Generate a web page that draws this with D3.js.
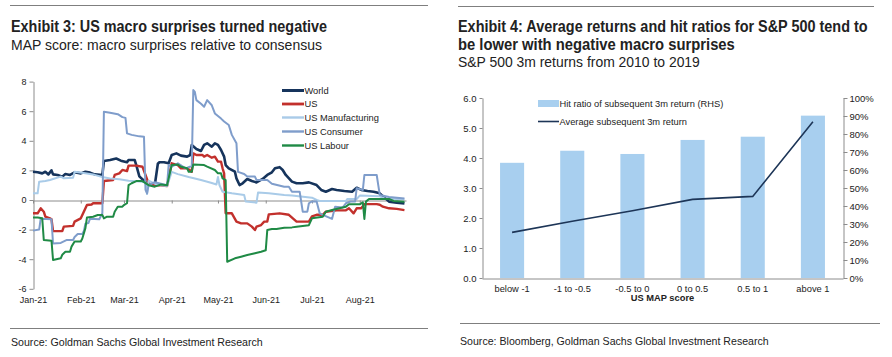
<!DOCTYPE html>
<html><head><meta charset="utf-8">
<script src="https://cdn.jsdelivr.net/npm/d3@7"></script>
<style>
html,body{margin:0;padding:0;background:#fff;}
svg{display:block;font-family:"Liberation Sans",Arial,sans-serif;}
</style></head>
<body><svg id="c" width="892" height="357"></svg>
<script>
// ---------- Exhibit 3 data (MAP scores) ----------
const seriesNames = ["World","US","US Manufacturing","US Consumer","US Labour"];
const seriesColors = ["#16345c","#c2302c","#a9cbe8","#7f9dcb","#1f8a45"];
const worldData = [["01-01",1.91],["01-04",1.87],["01-07",1.80],["01-09",1.91],["01-11",1.73],["01-13",2.00],["01-14",1.73],["01-17",1.69],["01-20",1.58],["01-22",1.76],["01-25",1.69],["01-28",1.87],["02-01",1.80],["02-04",1.91],["02-07",1.85],["02-10",1.73],["02-15",1.69],["02-16",2.64],["02-20",2.70],["02-24",2.80],["02-27",2.66],["03-03",2.55],["03-04",2.70],["03-08",2.70],["03-09",2.36],["03-11",1.60],["03-14",1.30],["03-17",1.10],["03-21",1.00],["03-23",2.45],["03-24",2.55],["03-27",2.55],["03-30",2.48],["04-01",3.04],["04-04",3.15],["04-07",3.00],["04-11",2.93],["04-13",3.04],["04-14",3.72],["04-17",3.45],["04-20",3.31],["04-22",3.72],["04-24",3.83],["04-27",3.60],["04-29",3.83],["05-01",3.72],["05-03",3.38],["05-05",2.93],["05-06",2.36],["05-08",2.14],["05-12",1.91],["05-13",1.46],["05-15",1.01],["05-17",1.13],["05-20",1.42],["05-23",1.28],["05-26",1.19],["05-30",1.42],["06-02",1.69],["06-05",1.87],["06-07",2.14],["06-10",2.22],["06-12",2.03],["06-14",1.69],["06-18",1.24],["06-21",1.13],["06-25",1.13],["06-29",1.19],["07-04",1.01],["07-07",0.68],["07-10",0.56],["07-14",0.74],["07-17",0.68],["07-22",0.61],["07-27",0.56],["07-30",0.83],["08-02",0.68],["08-06",0.61],["08-10",0.56],["08-14",0.45],["08-17",0.16],["08-20",-0.11],["08-25",-0.18],["08-30",-0.23]];
const usData = [["01-01",-0.90],["01-04",-0.90],["01-06",-0.56],["01-08",-0.79],["01-09",-1.13],["01-12",-1.24],["01-13",-1.30],["01-14",-2.10],["01-20",-2.10],["01-21",-1.80],["01-27",-1.75],["01-28",-1.46],["02-01",-1.24],["02-02",-1.01],["02-05",-0.34],["02-08",-0.30],["02-09",-0.22],["02-15",-0.22],["02-16",1.28],["02-22",1.35],["02-23",1.69],["02-26",1.80],["02-28",2.03],["03-03",1.95],["03-04",2.32],["03-09",2.32],["03-13",2.25],["03-15",1.69],["03-17",1.10],["03-21",1.00],["03-25",1.00],["03-29",0.95],["04-01",2.48],["04-05",2.36],["04-07",2.14],["04-11",2.14],["04-14",1.91],["04-15",3.15],["04-17",3.04],["04-21",3.04],["04-22",2.93],["04-24",3.04],["04-27",2.86],["04-29",2.93],["05-01",2.59],["05-03",2.59],["05-04",2.14],["05-05",1.80],["05-06",-0.90],["05-10",-0.90],["05-13",-1.46],["05-16",-1.58],["05-20",-1.58],["05-23",-1.80],["05-25",-2.03],["05-26",-1.80],["05-29",-1.69],["05-31",-1.46],["06-02",-1.46],["06-03",-0.97],["06-10",-0.90],["06-16",-1.00],["06-21",-1.46],["06-29",-1.46],["07-01",-1.10],["07-04",-1.00],["07-08",-1.00],["07-10",-0.79],["07-17",-0.70],["07-23",-0.70],["07-25",-0.56],["07-28",-0.90],["07-30",-0.56],["08-02",-0.56],["08-04",-0.28],["08-12",-0.28],["08-14",-0.32],["08-16",-0.45],["08-20",-0.56],["08-25",-0.60],["08-30",-0.68]];
const mfgData = [["01-01",0.45],["01-04",0.45],["01-05",1.24],["01-09",1.28],["01-12",1.35],["01-14",1.42],["01-19",1.58],["01-21",1.47],["01-27",1.50],["01-28",1.91],["02-04",1.80],["02-10",1.70],["02-15",1.55],["02-20",1.45],["02-26",1.40],["03-04",1.30],["03-11",1.25],["03-15",1.20],["03-16",0.40],["03-17",1.30],["03-21",1.10],["03-25",1.00],["03-29",0.95],["04-01",1.90],["04-05",1.75],["04-12",1.55],["04-20",1.35],["04-27",1.15],["04-30",1.05],["05-01",1.55],["05-02",1.00],["05-04",0.56],["05-10",0.45],["05-18",0.34],["05-19",-0.10],["05-26",-0.18],["05-27",0.50],["06-03",0.45],["06-13",0.34],["06-18",0.30],["07-01",0.16],["07-04",0.00],["07-06",-0.07],["07-23",-0.07],["07-24",0.07],["07-30",0.07],["08-01",0.30],["08-14",0.25],["08-17",0.10],["08-30",0.05]];
const consumerData = [["01-01",-2.07],["01-05",-2.00],["01-06",-1.26],["01-13",-1.30],["01-14",-2.94],["01-19",-2.90],["01-21",-2.80],["01-23",-2.70],["01-27",-2.70],["01-28",-2.50],["01-30",-2.30],["02-02",-2.30],["02-03",-2.10],["02-04",-1.60],["02-06",-1.55],["02-07",-1.26],["02-13",-1.30],["02-15",-0.90],["02-16",5.97],["02-20",5.90],["02-25",5.80],["02-28",5.60],["03-02",5.55],["03-03",4.50],["03-06",4.40],["03-11",4.30],["03-14",4.28],["03-15",0.68],["03-16",0.45],["03-17",1.00],["03-21",1.20],["03-25",1.10],["03-29",1.00],["03-30",2.36],["04-01",2.25],["04-05",2.48],["04-10",2.14],["04-14",2.30],["04-15",7.43],["04-16",7.30],["04-17",6.75],["04-20",6.50],["04-22",6.30],["04-24",6.75],["04-27",6.40],["04-29",5.85],["05-03",5.50],["05-05",5.30],["05-08",5.07],["05-10",4.40],["05-13",3.83],["05-14",1.90],["05-18",1.76],["05-20",1.58],["05-25",1.58],["05-26",1.35],["06-02",1.35],["06-05",1.10],["06-13",0.90],["06-16",0.90],["06-18",0.56],["06-23",0.56],["06-24",-0.10],["06-25",-0.79],["06-28",-0.79],["06-29",-0.22],["07-01",-0.10],["07-04",-0.10],["07-06",-0.90],["07-08",-1.00],["07-14",-1.28],["07-16",-0.45],["07-21",-0.50],["07-23",-0.22],["07-26",-0.10],["07-29",-0.10],["07-30",0.80],["08-03",0.68],["08-04",1.69],["08-12",1.69],["08-13",1.00],["08-14",0.34],["08-20",0.20],["08-30",0.10]];
const labourData = [["01-01",-1.19],["01-04",-1.19],["01-07",-1.24],["01-08",-2.70],["01-13",-2.75],["01-14",-4.05],["01-19",-3.94],["01-20",-3.70],["01-22",-3.50],["01-25",-3.50],["01-26",-3.15],["01-28",-2.80],["02-01",-2.80],["02-02",-2.60],["02-04",-1.90],["02-05",-1.19],["02-09",-1.13],["02-12",-1.01],["02-15",-1.01],["02-16",-1.24],["02-18",-1.13],["02-22",-1.13],["02-23",-0.79],["02-25",-0.45],["02-28",-0.45],["03-01",-0.34],["03-03",-0.22],["03-04",1.00],["03-06",1.13],["03-09",1.28],["03-13",1.28],["03-17",1.00],["03-21",0.90],["03-25",1.05],["03-29",1.00],["04-01",2.36],["04-05",2.40],["04-07",2.25],["04-11",2.14],["04-12",1.91],["04-14",1.91],["04-15",2.40],["04-22",2.36],["04-24",2.25],["04-29",2.03],["05-01",1.80],["05-03",1.80],["05-04",1.46],["05-06",1.35],["05-07",-4.17],["05-12",-3.94],["05-16",-3.83],["05-20",-3.72],["05-25",-3.60],["05-29",-3.50],["06-01",-3.40],["06-02",-2.03],["06-05",-1.96],["06-08",-1.96],["06-13",-1.87],["06-18",-1.85],["06-21",-1.80],["06-29",-1.70],["07-01",-1.24],["07-08",-1.13],["07-10",-0.79],["07-14",-0.68],["07-23",-0.45],["07-25",-0.29],["08-01",-0.29],["08-03",-0.16],["08-04",-1.28],["08-05",-0.11],["08-07",0.07],["08-20",0.07],["08-23",-0.07],["08-30",-0.11]];
const leftYTicks = [-6,-4,-2,0,2,4,6,8];

// ---------- Exhibit 4 data ----------
const categories = ["below -1","-1 to -0.5","-0.5 to 0","0 to 0.5","0.5 to 1","above 1"];
const hitRatio = [0.64,0.707,0.689,0.767,0.785,0.902];
const avgReturn = [1.52,1.89,2.24,2.62,2.72,5.21];
const leftTicks4 = [0,1,2,3,4,5,6];
const rightTicks4 = [0,0.1,0.2,0.3,0.4,0.5,0.6,0.7,0.8,0.9,1.0];

const svg = d3.select("#c");
const parse = d3.timeParse("%Y-%m-%d");
const txtCol = "#222";
const axCol = "#8c8c8c";

const condensed = '"Liberation Sans Narrow","Arial Narrow","Liberation Sans",Arial,sans-serif';

// ---------- rules and titles ----------
svg.append("line").attr("x1",10).attr("x2",428).attr("y1",5.5).attr("y2",5.5).attr("stroke","#7f7f7f").attr("stroke-width",1);
svg.append("line").attr("x1",458).attr("x2",874).attr("y1",6.5).attr("y2",6.5).attr("stroke","#7f7f7f").attr("stroke-width",1);
svg.append("line").attr("x1",10).attr("x2",428).attr("y1",328.5).attr("y2",328.5).attr("stroke","#7f7f7f").attr("stroke-width",1);
svg.append("line").attr("x1",460).attr("x2",880).attr("y1",323.5).attr("y2",323.5).attr("stroke","#7f7f7f").attr("stroke-width",1);

// condensed text: draw at natural size, then squeeze horizontally to the target width
function title(x,y,t,size,bold,w){
  const g = svg.append("g");
  const s = g.append("text").attr("x",0).attr("y",0).text(t)
    .style("font-family",condensed).style("font-size",size+"px")
    .style("font-weight",bold?"bold":"normal").attr("fill",txtCol);
  const nat = s.node().getComputedTextLength();
  const k = Math.min(1, w/nat);
  g.attr("transform","translate("+x+","+y+") scale("+k+",1)");
}
title(11,32,"Exhibit 3: US macro surprises turned negative",17,true,316);
title(11,50,"MAP score: macro surprises relative to consensus",14,false,327);
title(458,32,"Exhibit 4: Average returns and hit ratios for S&P 500 tend to",17,true,410);
title(458,50,"be lower with negative macro surprises",17,true,277);
title(458,67,"S&P 500 3m returns from 2010 to 2019",14,false,242);
title(11,346,"Source: Goldman Sachs Global Investment Research",11,false,252);
title(460,345,"Source: Bloomberg, Goldman Sachs Global Investment Research",11,false,309);

// ---------- Exhibit 3 chart ----------
const x3 = d3.scaleTime().domain([new Date(2021,0,1), new Date(2021,7,31)]).range([33,406]);
const y3 = d3.scaleLinear().domain([-6,8]).range([288.8,81.6]);

const yAx = svg.append("g").attr("transform","translate(33.5,0)")
  .call(d3.axisLeft(y3).tickValues(leftYTicks).tickSize(4).tickSizeOuter(0).tickPadding(3).tickFormat(d=>String(d)));
yAx.select(".domain").attr("stroke",axCol);
yAx.selectAll(".tick line").attr("stroke",axCol);
yAx.selectAll("text").style("font-size","9px").attr("fill",txtCol);

const months = d3.timeMonth.range(new Date(2021,0,1), new Date(2021,8,1));
const xAx = svg.append("g").attr("transform","translate(0,"+(y3(0)+0.5)+")")
  .call(d3.axisBottom(x3).tickValues(months).tickSize(3).tickSizeOuter(0).tickFormat(""));
xAx.select(".domain").attr("stroke",axCol);
xAx.selectAll(".tick line").attr("stroke",axCol);

const xLab = svg.append("g").attr("transform","translate(0,289)")
  .call(d3.axisBottom(x3).tickValues(months.slice(0,8)).tickSize(0).tickPadding(0).tickFormat(d3.timeFormat("%b-%y")));
xLab.select(".domain").remove();
xLab.selectAll("text").attr("dy",0).attr("y",13.5).style("font-size","9px").attr("fill",txtCol);

const allSeries = [worldData, usData, mfgData, consumerData, labourData];
const widths = [2.6,2.4,2,2,2];
const line3 = d3.line().x(d=>x3(parse("2021-"+d[0]))).y(d=>y3(d[1]));
allSeries.forEach((s,i)=>{
  svg.append("path").datum(s).attr("d",line3).attr("fill","none")
    .attr("stroke",seriesColors[i]).attr("stroke-width",widths[i]).attr("stroke-linejoin","round");
});

// legend
const legY = [90.5,104,117.5,131.5,145.5];
seriesNames.forEach((n,i)=>{
  svg.append("line").attr("x1",282).attr("x2",304).attr("y1",legY[i]).attr("y2",legY[i])
    .attr("stroke",seriesColors[i]).attr("stroke-width",widths[i]+0.4);
  svg.append("text").attr("x",304.5).attr("y",legY[i]+3.3).text(n).style("font-size","9.3px").attr("fill",txtCol);
});

// ---------- Exhibit 4 chart ----------
const xb = d3.scaleBand().domain(categories).range([482,843]).paddingInner(0.6).paddingOuter(0.3);
const yL = d3.scaleLinear().domain([0,6]).range([278,98]);
const yR = d3.scaleLinear().domain([0,1]).range([278,98]);

svg.append("g").selectAll("rect").data(categories).join("rect")
  .attr("x",d=>xb(d)).attr("width",xb.bandwidth())
  .attr("y",(d,i)=>yR(hitRatio[i])).attr("height",(d,i)=>yR(0)-yR(hitRatio[i]))
  .attr("fill","#a8cfef");

const lAx = svg.append("g").attr("transform","translate(482.5,0)")
  .call(d3.axisLeft(yL).tickValues(leftTicks4).tickSize(3).tickSizeOuter(0).tickPadding(3).tickFormat(d3.format(".1f")));
lAx.select(".domain").attr("stroke",axCol);
lAx.selectAll(".tick line").attr("stroke",axCol);
lAx.selectAll("text").style("font-size","9.5px").attr("fill",txtCol);

const rAx = svg.append("g").attr("transform","translate(843.5,0)")
  .call(d3.axisRight(yR).tickValues(rightTicks4).tickSize(4).tickSizeOuter(0).tickPadding(2).tickFormat(d3.format(".0%")));
rAx.select(".domain").attr("stroke",axCol);
rAx.selectAll(".tick line").attr("stroke",axCol);
rAx.selectAll("text").style("font-size","9.5px").attr("fill",txtCol);

const bAx = svg.append("g").attr("transform","translate(0,278.5)")
  .call(d3.axisBottom(xb).tickSize(0).tickSizeOuter(0).tickPadding(0));
bAx.select(".domain").attr("stroke",axCol);
bAx.selectAll("text").attr("dy",0).attr("y",13.5).style("font-size","9.3px").attr("fill",txtCol);

svg.append("text").attr("x",(482+843)/2).attr("y",300.5).attr("text-anchor","middle")
  .text("US MAP score").style("font-size","9.3px").style("font-weight","bold").attr("fill",txtCol);

const line4 = d3.line().x((d,i)=>xb(categories[i])+xb.bandwidth()/2).y(d=>yL(d));
svg.append("path").datum(avgReturn).attr("d",line4).attr("fill","none")
  .attr("stroke","#1d3557").attr("stroke-width",1.6);

// legend
svg.append("rect").attr("x",538).attr("y",100).attr("width",21).attr("height",7).attr("fill","#a8cfef");
svg.append("text").attr("x",559.5).attr("y",107).text("Hit ratio of subsequent 3m return (RHS)").style("font-size","9.3px").attr("fill",txtCol);
svg.append("line").attr("x1",538).attr("x2",559).attr("y1",121.5).attr("y2",121.5).attr("stroke","#1d3557").attr("stroke-width",1.6);
svg.append("text").attr("x",559.5).attr("y",125).text("Average subsequent 3m return").style("font-size","9.3px").attr("fill",txtCol);
</script></body></html>
